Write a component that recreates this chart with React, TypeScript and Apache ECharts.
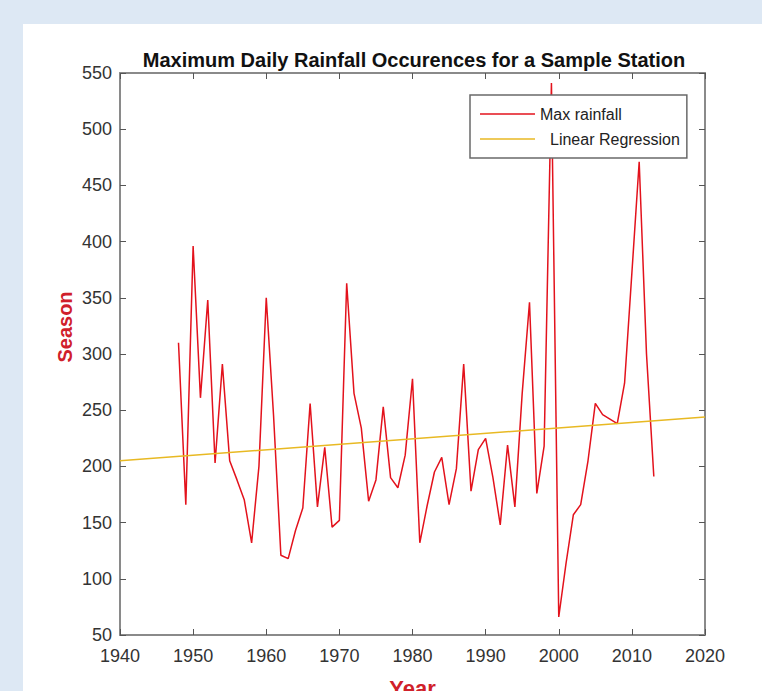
import React, { useEffect, useRef } from "react";
import * as echarts from "echarts";

const years = [
  1948, 1949, 1950, 1951, 1952, 1953, 1954, 1955, 1956, 1957,
  1958, 1959, 1960, 1961, 1962, 1963, 1964, 1965, 1966, 1967,
  1968, 1969, 1970, 1971, 1972, 1973, 1974, 1975, 1976, 1977,
  1978, 1979, 1980, 1981, 1982, 1983, 1984, 1985, 1986, 1987,
  1988, 1989, 1990, 1991, 1992, 1993, 1994, 1995, 1996, 1997,
  1998, 1999, 2000, 2001, 2002, 2003, 2004, 2005, 2006, 2007,
  2008, 2009, 2010, 2011, 2012, 2013,
];

const maxRainfall = [
  310, 166, 396, 261, 348, 203, 291, 205, 188, 170,
  132, 200, 350, 245, 121, 118, 143, 163, 256, 164,
  217, 146, 152, 363, 265, 234, 169, 188, 253, 190,
  181, 210, 278, 132, 165, 195, 208, 166, 198, 291,
  178, 215, 225, 190, 148, 219, 164, 265, 346, 176,
  218, 541, 66, 114, 157, 166, 205, 256, 246, 242,
  238, 274, 372, 471, 300, 191,
];

const regressionYears = [1940, 2020];
const regressionValues = [205, 244];

const xRange = { min: 1940, max: 2020, interval: 10 };
const yRange = { min: 50, max: 550, interval: 50 };

const titleText = "Maximum Daily Rainfall Occurences for a Sample Station";
const seriesNames = ["Max rainfall", "Linear Regression"];

const FONT = '"Liberation Sans", Arial, sans-serif';
const AXIS_GRAY = "#8a8a8a";
const TICK_GRAY = "#555555";
const LABEL_RED = "#d0202a";
const RED = "#e3121c";
const YELLOW = "#e8b923";

export default function App() {
  const ref = useRef<HTMLDivElement>(null);

  useEffect(() => {
    if (!ref.current) return;
    const chart = echarts.init(ref.current, null, { renderer: "svg" });

    const baseX = {
      type: "value" as const,
      min: xRange.min,
      max: xRange.max,
      interval: xRange.interval,
      splitLine: { show: false },
      axisLine: { show: true, lineStyle: { color: AXIS_GRAY, width: 2 } },
      axisTick: { show: true, inside: true, length: 6, lineStyle: { color: TICK_GRAY, width: 1 } },
    };
    const baseY = {
      type: "value" as const,
      min: yRange.min,
      max: yRange.max,
      interval: yRange.interval,
      splitLine: { show: false },
      axisLine: { show: true, lineStyle: { color: AXIS_GRAY, width: 2 } },
      axisTick: { show: true, inside: true, length: 6, lineStyle: { color: TICK_GRAY, width: 1 } },
    };

    const option: any = {
      animation: false,
      backgroundColor: "#dde8f4",
      textStyle: { fontFamily: FONT },
      graphic: [
        {
          type: "rect",
          z: -10,
          silent: true,
          shape: { x: 23, y: 24, width: 739, height: 667 },
          style: { fill: "#ffffff" },
        },
        {
          type: "text",
          x: 65,
          y: 327,
          rotation: Math.PI / 2,
          style: {
            text: "Season",
            fill: LABEL_RED,
            font: `bold 20px ${FONT}`,
            align: "center",
            verticalAlign: "middle",
          },
        },
      ],
      title: {
        text: titleText,
        left: 409,
        top: 45,
        textAlign: "center",
        textStyle: { fontFamily: FONT, fontSize: 20, fontWeight: "bold", color: "#111111" },
      },
      legend: {
        orient: "vertical",
        left: 470,
        top: 95,
        padding: [11, 7, 11, 10],
        itemGap: 9,
        itemWidth: 55,
        itemHeight: 1.5,
        icon: "rect",
        backgroundColor: "#ffffff",
        borderColor: "#6a6a6a",
        borderWidth: 1.5,
        borderRadius: 0,
        textStyle: { fontFamily: FONT, fontSize: 16, color: "#222222" },
        data: [
          { name: seriesNames[0] },
          { name: seriesNames[1], textStyle: { padding: [0, 0, 0, 10] } },
        ],
      },
      grid: { left: 120, right: 57, top: 73, bottom: 56, outerBoundsMode: "none", containLabel: false },
      xAxis: [
        {
          ...baseX,
          position: "bottom",
          axisLabel: {
            color: "#333333",
            fontSize: 18,
            margin: 12,
            fontFamily: FONT,
            formatter: (v: number) => String(v),
          },
          name: "Year",
          nameLocation: "middle",
          nameGap: 42,
          nameTextStyle: { color: LABEL_RED, fontSize: 22, fontWeight: "bold", fontFamily: FONT },
        },
        { ...baseX, position: "top", axisLabel: { show: false } },
      ],
      yAxis: [
        {
          ...baseY,
          position: "left",
          axisLabel: { color: "#333333", fontSize: 18, margin: 8, fontFamily: FONT },
        },
        { ...baseY, position: "right", axisLabel: { show: false } },
      ],
      series: [
        {
          name: seriesNames[0],
          type: "line",
          symbol: "none",
          data: years.map((y, i) => [y, maxRainfall[i]]),
          lineStyle: { color: RED, width: 1.5 },
          itemStyle: { color: RED },
        },
        {
          name: seriesNames[1],
          type: "line",
          symbol: "none",
          data: regressionYears.map((y, i) => [y, regressionValues[i]]),
          lineStyle: { color: YELLOW, width: 1.5 },
          itemStyle: { color: YELLOW },
        },
      ],
    };

    chart.setOption(option);
    return () => chart.dispose();
  }, []);

  return (
    <div style={{ position: "fixed", left: 0, top: 0, width: 762, height: 691 }}>
      <div ref={ref} style={{ width: 762, height: 691 }} />
    </div>
  );
}
